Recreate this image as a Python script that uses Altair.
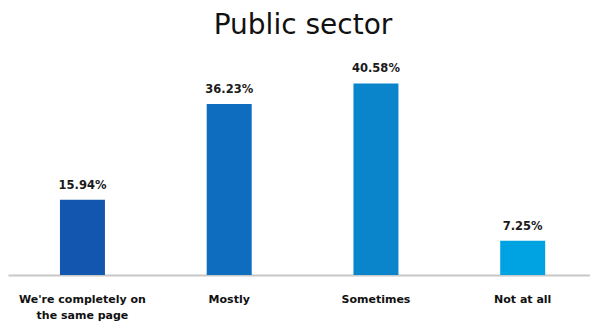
import altair as alt
import pandas as pd

# Survey answers for the public sector
categories = ["We're completely on the same page", "Mostly", "Sometimes", "Not at all"]
shares = [15.94, 36.23, 40.58, 7.25]
bar_colors = ["#1256B0", "#0F6DC0", "#0A85CB", "#00A3E1"]

df = pd.DataFrame({
    "category": categories,
    "share": shares,
    "label": [f"{v:.2f}%" for v in shares],
})

x_enc = alt.X(
    "category:N",
    sort=categories,
    scale=alt.Scale(paddingInner=0.6934, paddingOuter=0.3297, align=0.537),
    axis=alt.Axis(
        title=None,
        domainColor="#C8C8C8",
        domainWidth=2,
        ticks=False,
        labelAngle=0,
        labelFont="DejaVu Sans",
        labelFontSize=11,
        labelFontWeight="bold",
        labelColor="#111111",
        labelPadding=18,
        labelLineHeight=16,
        labelLimit=300,
        labelExpr=(
            "datum.value === \"We're completely on the same page\" ? "
            "[\"We're completely on\", \"the same page\"] : datum.value"
        ),
    ),
)
y_enc = alt.Y(
    "share:Q",
    scale=alt.Scale(domain=[0, 44.7], nice=False),
    axis=None,
)

bars = alt.Chart(df).mark_bar().encode(
    x=x_enc,
    y=y_enc,
    color=alt.Color(
        "category:N",
        scale=alt.Scale(domain=categories, range=bar_colors),
        legend=None,
    ),
)

labels = alt.Chart(df).mark_text(
    baseline="alphabetic",
    dy=-11,
    font="DejaVu Sans",
    fontWeight="bold",
    fontSize=11.5,
    color="#1a1a1a",
).encode(x=x_enc, y=y_enc, text="label:N")

chart = (
    alt.layer(bars, labels)
    .properties(
        width=582,
        height=211,
        padding={"left": 8, "right": 0, "top": 64, "bottom": 47},
        autosize="none",
        title=alt.TitleParams(
            "Public sector",
            font="DejaVu Sans",
            fontSize=28,
            fontWeight="normal",
            color="#111111",
            anchor="middle",
            baseline="alphabetic",
            offset=1,
            dx=4,
        ),
    )
    .configure_view(stroke=None)
)

chart.save("out.html", embed_options={"renderer": "svg", "actions": False})
